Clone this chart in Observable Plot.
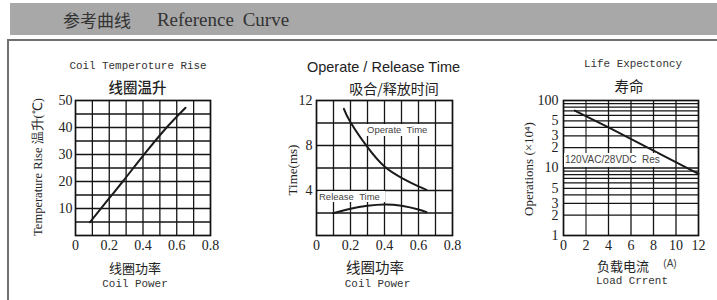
<!DOCTYPE html>
<html><head><meta charset="utf-8">
<script src="https://cdn.jsdelivr.net/npm/d3@7"></script>
<script src="https://cdn.jsdelivr.net/npm/@observablehq/plot@0.6"></script>
<style>
body{margin:0;background:#fff;}
#root{position:relative;width:717px;height:300px;overflow:hidden;font-family:"Liberation Serif",serif;color:#222;}
.header{position:absolute;left:10px;top:3px;width:707px;height:32px;background:#a8a8a8;}
.panel{position:absolute;left:7px;top:39px;width:720px;height:280px;border-left:2px solid #707070;border-top:2px solid #707070;}
.t{position:absolute;white-space:nowrap;transform:translate(-50%,-50%);line-height:1;}
.mono{font-family:"Liberation Mono",monospace;font-size:10.9px;color:#333;}
.cjk{font-family:"Noto Sans CJK SC",sans-serif;}
.sans{font-family:"Liberation Sans",sans-serif;}
.box{position:absolute;background:#fff;white-space:nowrap;font-family:"Liberation Sans",sans-serif;color:#444;line-height:1;}
.plot{position:absolute;top:60px;}
</style></head>
<body><div id="root">
<div class="header"></div>
<div class="t cjk" style="left:97px;top:19px;font-size:17px;color:#333;">参考曲线</div>
<div class="t" style="left:223px;top:19px;font-size:19px;color:#333;word-spacing:4px;">Reference Curve</div>
<div class="panel"></div>
</div>
<script>
// ---- Chart 1: Coil temperature rise ----
const powerTicks = [0, 0.2, 0.4, 0.6, 0.8];
const powerGrid = [0.1, 0.2, 0.3, 0.4, 0.5, 0.6, 0.7];
const tempTicks = [10, 20, 30, 40, 50];
const tempGrid = [5, 10, 15, 20, 25, 30, 35, 40, 45];
const tempPower = [0.085, 0.2, 0.28, 0.4, 0.54, 0.652];
const tempRise  = [4.9, 13.8, 20, 29.5, 40, 47.3];

// ---- Chart 2: Operate / Release time ----
const timeTicks = [4, 8, 12];
const timeGrid = [2, 4, 6, 8, 10];
const operatePower = [0.161, 0.2, 0.3, 0.4, 0.5, 0.6, 0.647];
const operateTime  = [11.26, 10.07, 7.85, 6.13, 5.13, 4.36, 4.06];
const releasePower = [0.098, 0.2, 0.3, 0.4, 0.5, 0.6, 0.647];
const releaseTime  = [1.98, 2.37, 2.64, 2.76, 2.64, 2.31, 2.07];

// ---- Chart 3: Life expectancy ----
const currentTicks = [0, 2, 4, 6, 8, 10, 12];
const currentGridDark = [4, 6, 8, 10];
const currentGridGray = [2];
const lifeTicks = [1, 2, 3, 5, 10, 20, 30, 50, 100];
const lifeTickText = ["1", "2", "3", "5", "10", "2", "3", "5", "100"];
const lifeGrid = [2, 3, 4, 5, 6, 7, 8, 9, 10, 20, 30, 40, 50, 60, 70, 80, 90];
const lifeCurrent = [1, 4, 12];
const lifeOps = [71, 40, 8.2];

const zip = (xs, ys) => xs.map((x, i) => ({x, y: ys[i]}));
const style = {fontFamily: "Liberation Serif", fontSize: "14px", color: "#222", background: "transparent", overflow: "visible"};
const gridStyle = {stroke: "#151515", strokeOpacity: 1, strokeWidth: 1.3};
const lineStyle = {x: "x", y: "y", stroke: "#1a1a1a", strokeWidth: 2};
const root = document.getElementById("root");

function place(svg, left) {
  svg.classList.add("plot");
  svg.style.left = left + "px";
  root.appendChild(svg);
}

place(Plot.plot({
  width: 240, height: 200, marginLeft: 75, marginRight: 30, marginTop: 40, marginBottom: 25,
  style,
  x: {domain: [0, 0.8]}, y: {domain: [0, 50]},
  marks: [
    Plot.gridX(powerGrid, gridStyle),
    Plot.gridY(tempGrid, gridStyle),
    Plot.frame({stroke: "#111", strokeWidth: 1.7}),
    Plot.axisX(powerTicks, {tickSize: 0, tickPadding: 5, tickFormat: d => String(d), label: null}),
    Plot.axisY(tempTicks, {tickSize: 0, tickPadding: 3, tickFormat: d => String(d), label: null}),
    Plot.line(zip(tempPower, tempRise), {...lineStyle, curve: "monotone-x"})
  ]
}), 0);

place(Plot.plot({
  width: 240, height: 200, marginLeft: 76, marginRight: 28, marginTop: 40, marginBottom: 25,
  style,
  x: {domain: [0, 0.8]}, y: {domain: [0, 12]},
  marks: [
    Plot.gridX(powerGrid, gridStyle),
    Plot.gridY(timeGrid, gridStyle),
    Plot.frame({stroke: "#111", strokeWidth: 1.7}),
    Plot.axisX(powerTicks, {tickSize: 0, tickPadding: 5, tickFormat: d => String(d), label: null}),
    Plot.axisY(timeTicks, {tickSize: 0, tickPadding: 4, tickFormat: d => String(d), label: null}),
    Plot.line(zip(operatePower, operateTime), {...lineStyle, curve: "natural"}),
    Plot.line(zip(releasePower, releaseTime), {...lineStyle, curve: "natural"})
  ]
}), 240);

place(Plot.plot({
  width: 237, height: 200, marginLeft: 83, marginRight: 19, marginTop: 40, marginBottom: 25,
  style,
  x: {domain: [0, 12], axis: null}, y: {type: "log", domain: [1, 100], axis: null},
  marks: [
    Plot.gridX(currentGridDark, gridStyle),
    Plot.gridX(currentGridGray, {stroke: "#808080", strokeOpacity: 1, strokeWidth: 2}),
    Plot.gridY(lifeGrid, gridStyle),
    Plot.frame({stroke: "#111", strokeWidth: 1.7}),
    Plot.axisX(currentTicks, {tickSize: 0, tickPadding: 5, tickFormat: d => String(d), label: null}),
    Plot.text(lifeTicks, {y: d => d, text: (d, i) => lifeTickText[i], frameAnchor: "left", textAnchor: "end", dx: -5, fontSize: 14, fill: "#222"}),
    Plot.line(zip(lifeCurrent, lifeOps), {...lineStyle})
  ]
}), 480);

// text labels (titles, axis titles, annotations)
const labels = [
  ["Coil Temperoture Rise", 138, 66, "mono", ""],
  ["线圈温升", 137.5, 87, "cjk", "font-size:14.5px;font-weight:500;"],
  ["Temperature Rise 温升(℃)", 38, 167, "", "font-size:12.5px;transform:translate(-50%,-50%) rotate(-90deg);"],
  ["线圈功率", 135, 266.5, "cjk", "font-size:13px;"],
  ["Coil Power", 135, 284, "mono", ""],
  ["Operate / Release Time", 383.5, 66.5, "sans", "font-size:14.5px;"],
  ["吸合/释放时间", 394, 88, "cjk", "font-size:14px;"],
  ["Time(ms)", 291.5, 170, "", "font-size:13px;transform:translate(-50%,-50%) rotate(-90deg);"],
  ["线圈功率", 375, 266.5, "cjk", "font-size:14.5px;"],
  ["Coil Power", 377.5, 284, "mono", ""],
  ["Life Expectoncy", 633, 64, "mono", ""],
  ["寿命", 629, 86, "cjk", "font-size:14.5px;"],
  ["Operations (×10⁴)", 528, 169, "", "font-size:13px;transform:translate(-50%,-50%) rotate(-90deg);"],
  ["负载电流", 623, 265, "cjk", "font-size:13px;"],
  ["(A)", 670, 263.5, "sans", "font-size:10px;color:#444;"],
  ["Load Crrent", 632, 281, "mono", ""]
];
for (const [text, x, y, cls, css] of labels) {
  const d = document.createElement("div");
  d.className = "t " + cls;
  d.textContent = text;
  d.style.cssText = `left:${x}px;top:${y}px;` + css;
  root.appendChild(d);
}
const boxes = [
  ["Operate\u00a0\u00a0Time", 362, 124, 71, 12, 9.5, 5],
  ["Release\u00a0\u00a0Time", 318, 191, 67, 11, 9.5, 1],
  ["120VAC/28VDC\u00a0\u00a0Res", 564, 153, 93, 14, 10, 1]
];
for (const [text, x, y, w, h, fs, pad] of boxes) {
  const d = document.createElement("div");
  d.className = "box";
  d.textContent = text;
  d.style.cssText = `left:${x}px;top:${y}px;width:${w}px;height:${h}px;font-size:${fs}px;padding-left:${pad}px;box-sizing:border-box;display:flex;align-items:center;`;
  root.appendChild(d);
}
</script>
</body></html>
